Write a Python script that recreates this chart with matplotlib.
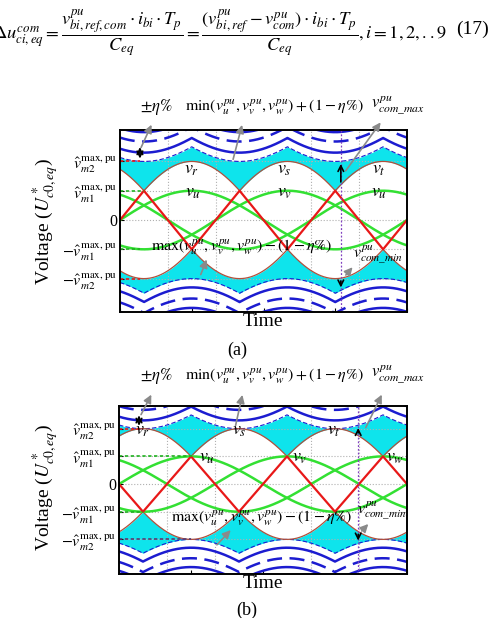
import numpy as np
import matplotlib.pyplot as plt

plt.rcParams['font.family'] = ['Liberation Serif', 'DejaVu Serif']
plt.rcParams['mathtext.fontset'] = 'stix'

# values in per unit of v_m1, angle in degrees
theta = np.linspace(0, 360, 1441)
amp_uvw = 1.0                       # green phases v_u, v_v, v_w
phase_uvw = [0, -120, 120]
amp_rst = 2.0                       # thin arches v_r, v_s, v_t
phase_rst = {'a': [0, -120, 120], 'b': [60, -60, 180]}
tri_amp = {'a': 1.0, 'b': -1.0}     # red triangular common mode
band_level = 3.0                    # min(...) + (1 - eta%)
blue_shift = [0.3, 0.68, 1.0]       # eta band lines
marker_theta = {'a': 277, 'b': 299}
ylims = {'a': (-3.14, 3.09), 'b': (-3.25, 2.82)}

ytick_vals = [-2, -1, 0, 1, 2]
ytick_labels = [r'$-\hat{v}_{m2}^{\mathrm{max,pu}}$', r'$-\hat{v}_{m1}^{\mathrm{max,pu}}$', '0',
                r'$\hat{v}_{m1}^{\mathrm{max,pu}}$', r'$\hat{v}_{m2}^{\mathrm{max,pu}}$']
rst_names = {'a': [r'$v_r$', r'$v_s$', r'$v_t$'], 'b': [r'$v_r$', r'$v_s$', r'$v_t$']}
uvw_names = {'a': [r'$v_u$', r'$v_v$', r'$v_u$'], 'b': [r'$v_u$', r'$v_v$', r'$v_w$']}
rst_label_theta = {'a': [90, 206, 325], 'b': [30, 151, 268]}
uvw_label_theta = {'a': [91, 206, 325], 'b': [110, 226, 345]}

CYAN = '#0ee4ec'
GREEN = '#33e033'
RED = '#e81818'
ARCH = '#b0503c'
BLUE = '#1c1cd0'
GRAY = '#8a8a8a'

W, H = 490, 618
fig = plt.figure(figsize=(W / 100, H / 100), dpi=100)


def ftext(x, y, s, **kw):
    fig.text(x / W, 1 - y / H, s, **kw)


def panel(key, box):
    l, t, r, b = box
    ax = fig.add_axes([l / W, 1 - b / H, (r - l) / W, (b - t) / H])
    th = np.radians(theta)
    g = np.array([amp_uvw * np.sin(th + np.radians(p)) for p in phase_uvw])
    a = np.array([amp_rst * np.sin(th + np.radians(p)) for p in phase_rst[key]])
    tri = tri_amp[key] * 2 / np.pi * np.arcsin(np.sin(3 * th))
    top = band_level + g.min(axis=0)
    bot = g.max(axis=0) - band_level
    amax, amin = a.max(axis=0), a.min(axis=0)

    ax.fill_between(theta, amax, top, where=top >= amax, color=CYAN, lw=0)
    ax.fill_between(theta, bot, amin, where=bot <= amin, color=CYAN, lw=0)
    ax.plot(theta, top, color=BLUE, lw=0.8, ls=(0, (4, 2)))
    ax.plot(theta, bot, color=BLUE, lw=0.8, ls=(0, (4, 2)))
    for s, ls in zip(blue_shift, ['-', (0, (6, 3)), '-']):
        ax.plot(theta, top + s, color=BLUE, lw=1.8, ls=ls)
        ax.plot(theta, bot - s, color=BLUE, lw=1.8, ls=ls)
    ax.plot(theta, amax, color=ARCH, lw=0.9)
    ax.plot(theta, amin, color=ARCH, lw=0.9)
    for gi in g:
        ax.plot(theta, gi, color=GREEN, lw=1.8)
    ax.plot(theta, tri, color=RED, lw=1.6)

    # reference dotted levels
    x1 = 25 if key == 'a' else 30
    ax.plot([0, x1], [2, 2], color=RED, lw=1.2, ls=(0, (2, 1.5)))
    ax.plot([0, x1 if key == 'a' else 90], [-2, -2], color=RED if key == 'a' else '#5a3a70', lw=1.2, ls=(0, (2, 1.5)))
    ax.plot([0, 30 if key == 'a' else 91], [1, 1], color='#20b020', lw=1.2, ls=(0, (2, 1.5)))
    ax.plot([0, 25 if key == 'a' else 30], [-1, -1], color='#20b020', lw=1.2, ls=(0, (2, 1.5)))

    # marker line and arrows
    mt = marker_theta[key]
    ax.axvline(mt, color='#8040c0', lw=0.9, ls=(0, (1.5, 1.5)))
    i = np.argmin(abs(theta - mt))
    arw = dict(arrowstyle='->', color='k', lw=1.2, mutation_scale=10)
    ax.annotate('', xy=(mt, top[i]), xytext=(mt, amax[i]), arrowprops=arw)
    ax.annotate('', xy=(mt, bot[i]), xytext=(mt, amin[i]), arrowprops=arw)
    j = np.argmin(abs(theta - 25))
    ax.annotate('', xy=(25, top[j] + 0.58), xytext=(25, top[j]),
                arrowprops=dict(arrowstyle='<->', color='k', lw=1.2, mutation_scale=10))

    for name, tx in zip(rst_names[key], rst_label_theta[key]):
        ax.text(tx, 1.72 if key == 'a' else 1.95, name, fontsize=13, ha='center', va='center')
    for name, tx in zip(uvw_names[key], uvw_label_theta[key]):
        ax.text(tx, 0.95, name, fontsize=13, ha='center', va='center')

    ax.set_xlim(0, 360)
    ax.set_ylim(*ylims[key])
    ax.set_xticks([0, 90, 180, 270, 360])
    ax.set_xticklabels([])
    ax.set_xticks(np.arange(0, 361, 60), minor=True)
    ax.set_yticks(ytick_vals)
    ax.set_yticklabels(ytick_labels, fontsize=11.5)
    ax.tick_params(direction='in', length=3, width=0.8, pad=2)
    ax.tick_params(which='minor', length=0)
    ax.grid(which='minor', axis='x', color='#b0b0b0', ls=':', lw=0.8)
    ax.grid(which='major', axis='y', color='#b0b0b0', ls=':', lw=0.8)
    for sp in ax.spines.values():
        sp.set_linewidth(1.4)
    return ax


ax_a = panel('a', (120, 129.5, 407, 312))
ax_b = panel('b', (119, 406, 407, 574))

gray = dict(arrowstyle='-|>', color=GRAY, lw=1.2, mutation_scale=12)
arrows = {
    'a': [((41, 3.34), (25, 2.39)), ((154, 3.34), (141, 1.98)), ((329, 3.41), (281, 1.6)),
          ((110, -1.26), (100, -1.95)), ((294, -1.54), (281, -1.95))],
    'b': [((42, 3.32), (26, 2.42)), ((155, 3.32), (145, 2.02)), ((330, 3.32), (307, 1.95)),
          ((142, -1.59), (120, -2.27)), ((314, -1.37), (301, -1.77))],
}
for ax, key in [(ax_a, 'a'), (ax_b, 'b')]:
    for head, tail in arrows[key]:
        ax.annotate('', xy=head, xytext=tail, arrowprops=gray, annotation_clip=False)

min_txt = r'$\min(v_u^{pu},v_v^{pu},v_w^{pu})+(1-\eta\%)$'
max_txt = r'$\max(v_u^{pu},v_v^{pu},v_w^{pu})-(1-\eta\%)$'
for y0, ylow, xlow, key in [(107, 247, 242, 'a'), (376, 518, 262, 'b')]:
    ftext(156, y0, r'$\pm\eta\%$', fontsize=12, ha='center', va='center')
    ftext(274, y0, min_txt, fontsize=11.5, ha='center', va='center')
    ftext(398, y0 - 2, r'$v_{com\_max}^{pu}$', fontsize=12, ha='center', va='center')
    ftext(xlow, ylow, max_txt, fontsize=11.5, ha='center', va='center')
    ftext(378 if key == 'a' else 382, ylow + 8 if key == 'a' else ylow - 7,
          r'$v_{com\_min}^{pu}$', fontsize=11.5, ha='center', va='center')

ftext(46, 222, r'Voltage ($U^*_{c0,eq}$)', fontsize=14, rotation=90, ha='center', va='center')
ftext(46, 488, r'Voltage ($U^*_{c0,eq}$)', fontsize=14, rotation=90, ha='center', va='center')
ftext(263, 322, 'Time', fontsize=14, ha='center', va='center')
ftext(263, 583, 'Time', fontsize=14, ha='center', va='center')
ftext(237, 350, '(a)', fontsize=13, ha='center', va='center')
ftext(247, 610, '(b)', fontsize=13, ha='center', va='center')

eq = (r'$\Delta u_{ci,eq}^{com}=\dfrac{v_{bi,ref,com}^{pu}\cdot i_{bi}\cdot T_p}{C_{eq}}'
      r'=\dfrac{(v_{bi,ref}^{pu}-v_{com}^{pu})\cdot i_{bi}\cdot T_p}{C_{eq}},i=1,2,..9$')
ftext(-7, 33, eq, fontsize=13.3, ha='left', va='center')
ftext(489, 29, '(17)', fontsize=14, ha='right', va='center')

fig.savefig('out.png', dpi=100)
